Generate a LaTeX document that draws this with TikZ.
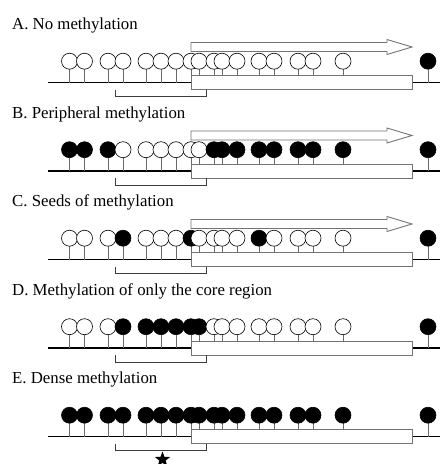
\documentclass[tikz,border=0pt]{standalone}
\usepackage{fontspec}
\setmainfont{Liberation Serif}
\usetikzlibrary{shapes.geometric}
\definecolor{StemGray}{RGB}{105,105,105}
\definecolor{BoxGray}{RGB}{115,115,115}
\definecolor{BracketGray}{RGB}{60,60,60}

\begin{document}
\begin{tikzpicture}[x=1pt,y=-1pt,
  paneltitle/.style={font=\fontsize{16.8}{20}\selectfont,inner sep=0pt},
  stem/.style={draw=StemGray,line width=0.8pt},
  cpg/.style={draw=black,line width=0.6pt},
  m0/.style={fill=white},
  m1/.style={fill=black},
  arrowline/.style={draw=BoxGray,fill=white,line width=0.9pt},
  genebox/.style={draw=BoxGray,fill=white,line width=0.9pt},
  bracket/.style={draw=BracketGray,line width=0.9pt}]
\useasboundingbox (0,0) rectangle (440,464);
% one panel per methylation state; \tx = 1 where the gene is transcribed
\foreach \yy/\tx/\ttl/\pat [count=\p] in {
  82.5/1/{A. No methylation}/{0,0,0,0,0,0,0,0,0,0,0,0,0,0,0,0,0,1},
  171/1/{B. Peripheral methylation}/{1,1,1,0,0,0,0,0,0,1,1,1,1,1,1,1,1,1},
  259.5/1/{C. Seeds of methylation}/{0,0,0,1,0,0,0,1,0,0,0,0,1,0,0,0,0,1},
  348/0/{D. Methylation of only the core region}/{0,0,0,1,1,1,1,1,1,0,0,0,0,0,0,0,0,1},
  436.5/0/{E. Dense methylation}/{1,1,1,1,1,1,1,1,1,1,1,1,1,1,1,1,1,1}}{
\begin{scope}[shift={(0,\yy)}]
  \node[paneltitle,anchor=base west] (title\p) at (12,-53) {\ttl};
  \ifnum\tx=1
    \draw[arrowline] (191,-40) -- (387,-40) -- (387,-43) -- (412,-35.5)
      -- (387,-28) -- (387,-31) -- (191,-31) -- cycle;
  \fi
  \draw[line width=1.4pt] (48,0) -- (440,0);
  \foreach \m [count=\i] in \pat {
    \pgfmathsetmacro\cx{{69.5,84.5,108,123,146,161,176,191,199,214,222,237,259,274,298,313,343,428}[\i-1]}
    \draw[stem] (\cx,-13.3) -- (\cx,0);
  }
  \foreach \m [count=\i] in \pat {
    \pgfmathsetmacro\cx{{69.5,84.5,108,123,146,161,176,191,199,214,222,237,259,274,298,313,343,428}[\i-1]}
    \draw[cpg,m\m] (\cx,-21.3) circle (8);
  }
  \draw[genebox] (191,-7) rectangle (412,7);
  \draw[bracket] (115.5,7) -- (115.5,14) -- (206.5,14) -- (206.5,7);
\end{scope}
}
\node[star,star points=5,star point ratio=2.4,fill=black,inner sep=0pt,
  minimum size=16pt] (core) at (162.5,459.5) {};
\end{tikzpicture}
\end{document}
